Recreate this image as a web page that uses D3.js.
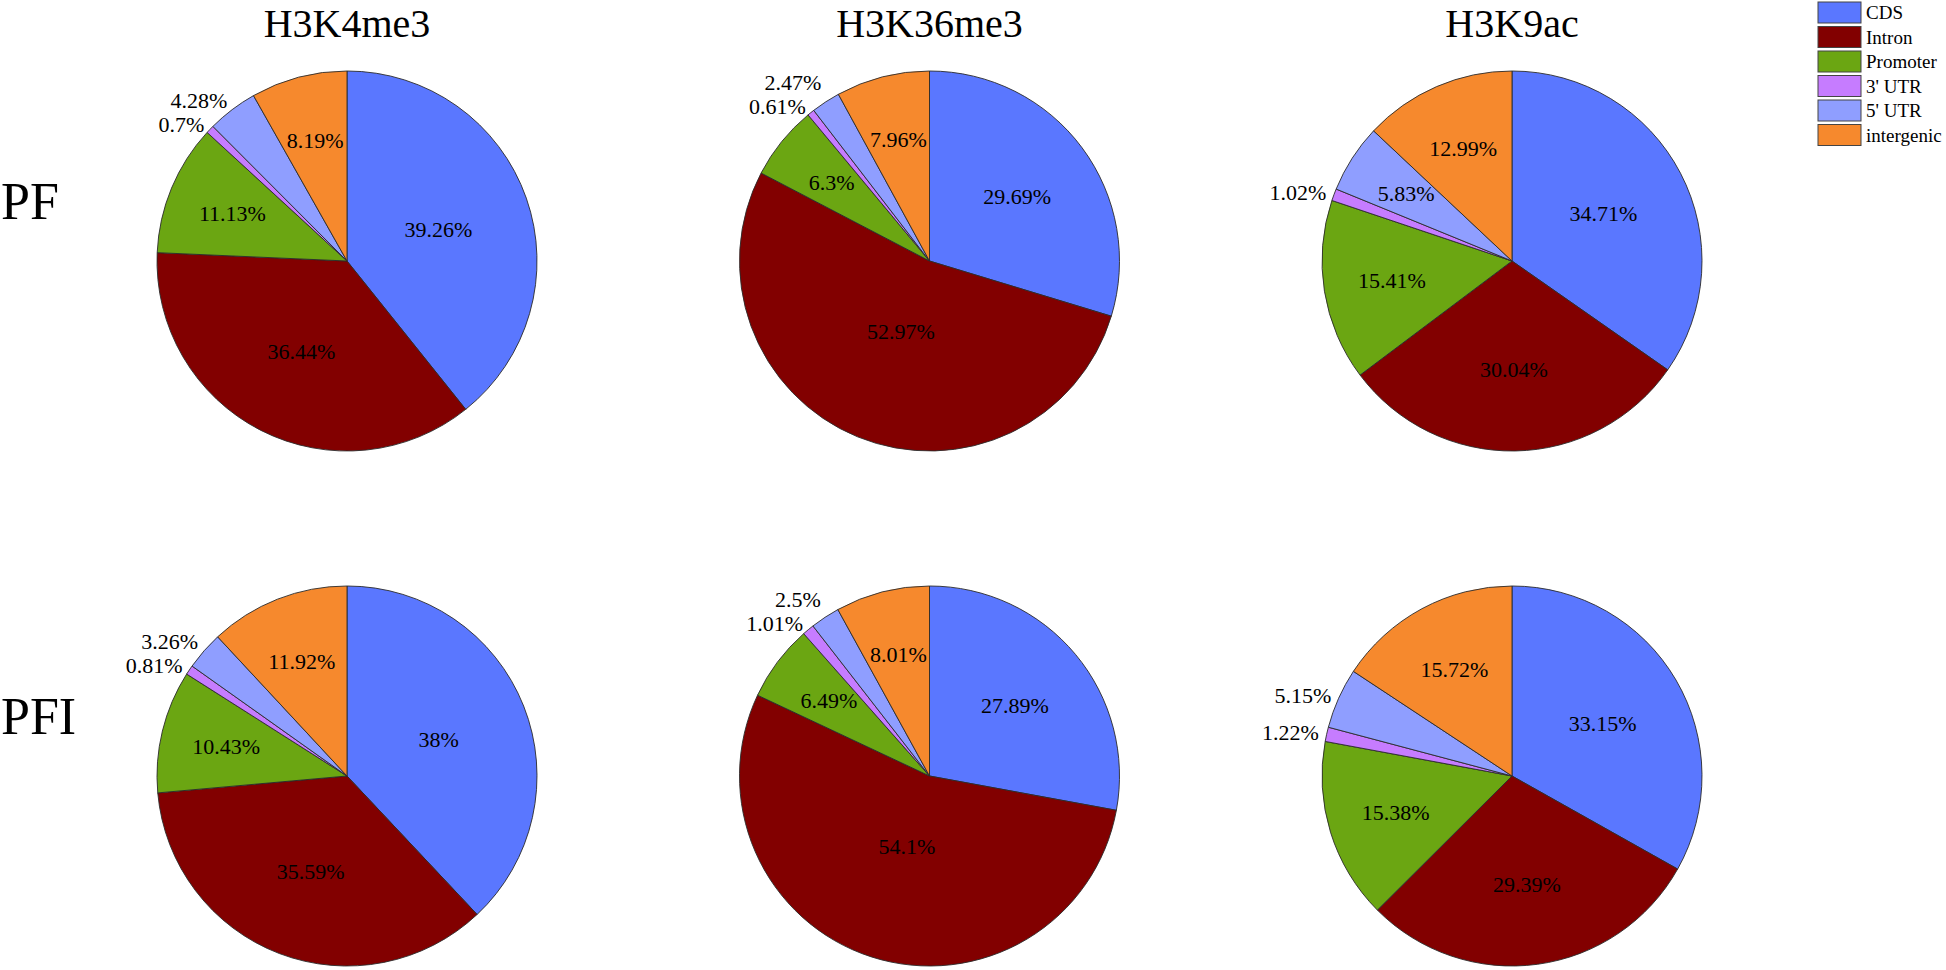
<!DOCTYPE html>
<html>
<head>
<meta charset="utf-8">
<script src="https://cdn.jsdelivr.net/npm/d3@7"></script>
<style>
  body { margin: 0; background: #fff; }
  svg text { font-family: "Liberation Serif", "Times New Roman", Times, "DejaVu Serif", serif; }
</style>
</head>
<body>
<div id="chart"></div>
<script>
const categories = ['CDS', 'Intron', 'Promoter', "3' UTR", "5' UTR", 'intergenic']
const colors = ['#5a77ff', '#820000', '#6ba612', '#c67cff', '#8f9eff', '#f6892d']
const marks = ['H3K4me3', 'H3K36me3', 'H3K9ac']
const samples = ['PF', 'PFI']

// percentages, in category order
const pfH3K4me3 = [39.26, 36.44, 11.13, 0.7, 4.28, 8.19]
const pfH3K36me3 = [29.69, 52.97, 6.3, 0.61, 2.47, 7.96]
const pfH3K9ac = [34.71, 30.04, 15.41, 1.02, 5.83, 12.99]
const pfiH3K4me3 = [38, 35.59, 10.43, 0.81, 3.26, 11.92]
const pfiH3K36me3 = [27.89, 54.1, 6.49, 1.01, 2.5, 8.01]
const pfiH3K9ac = [33.15, 29.39, 15.38, 1.22, 5.15, 15.72]

const panels = [
    { sample: 'PF', mark: 'H3K4me3', values: pfH3K4me3 },
    { sample: 'PF', mark: 'H3K36me3', values: pfH3K36me3 },
    { sample: 'PF', mark: 'H3K9ac', values: pfH3K9ac },
    { sample: 'PFI', mark: 'H3K4me3', values: pfiH3K4me3 },
    { sample: 'PFI', mark: 'H3K36me3', values: pfiH3K36me3 },
    { sample: 'PFI', mark: 'H3K9ac', values: pfiH3K9ac },
]

const width = 1946
const height = 970
const radius = 190
const insideMin = 5.5
const serif = '"Liberation Serif", "Times New Roman", Times, "DejaVu Serif", serif'

const svg = d3.select('#chart')
    .append('svg')
        .attr('width', width)
        .attr('height', height)
        .attr('font-family', serif)

const x = d3.scalePoint().domain(marks).range([347, 1512])
const y = d3.scalePoint().domain(samples).range([261, 776])
const color = d3.scaleOrdinal().domain(categories).range(colors)

const pie = d3.pie().sort(null).value(d => d)
const arc = d3.arc().innerRadius(0).outerRadius(radius)

// column titles
svg.selectAll('.col-title')
    .data(marks)
    .enter()
    .append('text')
        .attr('x', d => x(d))
        .attr('y', 37)
        .attr('text-anchor', 'middle')
        .attr('font-family', serif)
        .style('font-size', '40px')
        .text(d => d)

// row titles
svg.selectAll('.row-title')
    .data(samples)
    .enter()
    .append('text')
        .attr('x', 1)
        .attr('y', d => y(d) - 42)
        .attr('font-family', serif)
        .style('font-size', '52px')
        .text(d => d)

panels.forEach(p => {
    const g = svg.append('g')
        .attr('transform', `translate(${x(p.mark)}, ${y(p.sample)})`)
    const arcs = pie(p.values)

    g.selectAll('path')
        .data(arcs)
        .enter()
        .append('path')
            .attr('d', arc)
            .attr('fill', (d, i) => color(categories[i]))
            .attr('stroke', '#2b2b2b')
            .attr('stroke-width', 0.9)

    // big slices: label near the slice centroid
    arcs.filter(d => d.data >= insideMin).forEach(d => {
        const half = (d.endAngle - d.startAngle) / 2
        const mid = d.startAngle + half
        const dist = (2 / 3) * radius * Math.sin(half) / half
        g.append('text')
            .attr('x', dist * Math.sin(mid))
            .attr('y', -dist * Math.cos(mid))
            .attr('dy', '0.35em')
            .attr('text-anchor', 'middle')
            .attr('font-family', serif)
            .style('font-size', '22px')
            .text(`${d.data}%`)
    })

    // small slices: label just outside the rim, pushed up if they collide
    let prevY = Infinity
    arcs.filter(d => d.data < insideMin).forEach(d => {
        const mid = (d.startAngle + d.endAngle) / 2
        const rr = radius + 8
        let ly = -rr * Math.cos(mid)
        ly = Math.min(ly, prevY - 24)
        prevY = ly
        g.append('text')
            .attr('x', rr * Math.sin(mid))
            .attr('y', ly)
            .attr('dy', '0.35em')
            .attr('text-anchor', 'end')
            .attr('font-family', serif)
            .style('font-size', '22px')
            .text(`${d.data}%`)
    })
})

// legend
const legend = svg.append('g')
    .attr('transform', 'translate(1818, 2)')

const rows = legend.selectAll('g')
    .data(categories)
    .enter()
    .append('g')
        .attr('transform', (d, i) => `translate(0, ${i * 24.5})`)

rows.append('rect')
    .attr('width', 43)
    .attr('height', 21)
    .attr('fill', d => color(d))
    .attr('stroke', '#444')
    .attr('stroke-width', 1)

rows.append('text')
    .attr('x', 48)
    .attr('y', 17)
    .attr('font-family', serif)
    .style('font-size', '19px')
    .text(d => d)
</script>
</body>
</html>
